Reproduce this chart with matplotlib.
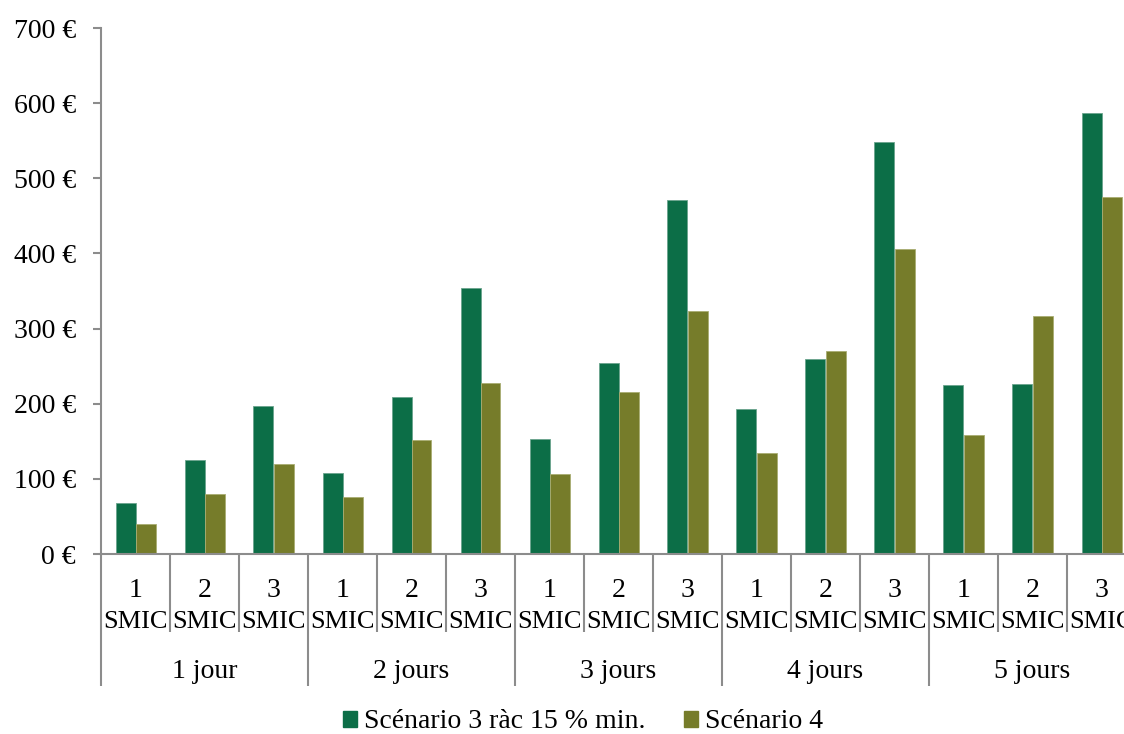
import matplotlib
matplotlib.use("Agg")
import matplotlib.pyplot as plt
import matplotlib.transforms as mtransforms
from matplotlib.patches import Patch

groups = ["1 jour", "2 jours", "3 jours", "4 jours", "5 jours"]
sublabels = ["1\nSMIC", "2\nSMIC", "3\nSMIC"]
scen3 = [68, 125, 197, 108, 209, 354, 153, 254, 471, 193, 259, 548, 225, 226, 587]
scen4 = [40, 80, 120, 76, 152, 228, 106, 216, 323, 134, 270, 406, 158, 317, 475]
yticks = [0, 100, 200, 300, 400, 500, 600, 700]
series_names = ["Scénario 3 ràc 15 % min.", "Scénario 4"]

green = "#0C6E47"
olive = "#767C2A"
axis_grey = "#8C8C8C"
FONT = "Liberation Serif"
FS = 20
FS_SMIC = 19

W, H = 1124, 734
fig = plt.figure(figsize=(W / 100, H / 100), dpi=100)
left_px, right_px, top_px, bot_px = 101, 1136, 28, 554
ax = fig.add_axes([left_px / W, 1 - bot_px / H, (right_px - left_px) / W, (bot_px - top_px) / H])

n = len(scen3)
xs = [i + 0.5 for i in range(n)]
bw = 20 / 69
ax.bar([x - bw / 2 for x in xs], scen3, width=bw, color=green, edgecolor="#6aa48d", linewidth=0.6)
ax.bar([x + bw / 2 for x in xs], scen4, width=bw, color=olive, edgecolor="#a9ad72", linewidth=0.6)

ax.set_xlim(0, n)
ax.set_ylim(0, 700)
ax.set_yticks(yticks)
ax.set_yticklabels([f"{v} €" for v in yticks], fontfamily=FONT, fontsize=FS)
ax.tick_params(axis="y", direction="out", length=6, width=1.5, color=axis_grey, pad=12)
ax.set_xticks([])
for s in ["top", "right"]:
    ax.spines[s].set_visible(False)
for s in ["left", "bottom"]:
    ax.spines[s].set_color(axis_grey)
    ax.spines[s].set_linewidth(1.5)

axh = bot_px - top_px
trans = mtransforms.blended_transform_factory(ax.transData, ax.transAxes)
inner_len = -78 / axh
outer_len = -132 / axh
for b in range(n + 1):
    y1 = outer_len if b % 3 == 0 else inner_len
    ax.plot([b, b], [0, y1], color=axis_grey, lw=1.5, transform=trans, clip_on=False,
            solid_capstyle="butt")

for i, x in enumerate(xs):
    num, smic = sublabels[i % 3].split("\n")
    ax.text(x, -(597 - bot_px) / axh, num, transform=trans, ha="center", va="baseline",
            fontfamily=FONT, fontsize=FS)
    ax.text(x, -(628 - bot_px) / axh, smic, transform=trans, ha="center", va="baseline",
            fontfamily=FONT, fontsize=FS_SMIC)
for g, name in enumerate(groups):
    ax.text(g * 3 + 1.5, -(678 - bot_px) / axh, name, transform=trans, ha="center",
            va="baseline", fontfamily=FONT, fontsize=FS)

handles = [Patch(facecolor=green, edgecolor=green), Patch(facecolor=olive, edgecolor=olive)]
fig.legend(handles, series_names, loc="center", bbox_to_anchor=(583 / W, 1 - 722 / H),
           ncol=2, frameon=False, prop={"family": FONT, "size": FS},
           handlelength=0.5, handleheight=0.5, handletextpad=0.25, columnspacing=1.4,
           borderpad=0.0)

fig.savefig("out.png", dpi=100)
